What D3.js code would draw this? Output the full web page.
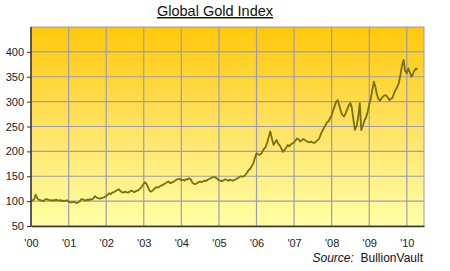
<!DOCTYPE html>
<html>
<head>
<meta charset="utf-8">
<script src="https://cdn.jsdelivr.net/npm/d3@7"></script>
<style>
  body { margin: 0; background: #ffffff; }
  svg { display: block; font-family: "Liberation Sans", Arial, sans-serif; }
</style>
</head>
<body>
<div id="chart"></div>
<script>
// semi-monthly readings (1st and 15th of each month), index level
const years = [2000, 2001, 2002, 2003, 2004, 2005, 2006, 2007, 2008, 2009, 2010];
const values2000 = [100, 101, 104, 113, 106, 103, 102, 101, 100, 103, 104, 103, 102, 101, 102, 101, 103, 102, 101, 102, 100, 101, 100, 102];
const values2001 = [99, 98, 97, 99, 98, 96, 97, 99, 103, 104, 102, 101, 103, 102, 104, 103, 106, 110, 107, 106, 105, 106, 107, 108];
const values2002 = [110, 113, 116, 114, 117, 118, 120, 122, 124, 121, 118, 117, 119, 118, 117, 119, 121, 120, 118, 120, 121, 123, 126, 130];
const values2003 = [135, 138, 133, 126, 120, 119, 122, 125, 128, 127, 129, 131, 132, 134, 136, 138, 139, 136, 137, 139, 141, 143, 144, 145];
const values2004 = [142, 143, 141, 144, 143, 146, 144, 138, 135, 134, 136, 138, 139, 138, 140, 141, 141, 143, 145, 146, 148, 149, 147, 145];
const values2005 = [142, 141, 140, 142, 144, 143, 141, 143, 142, 141, 143, 144, 146, 148, 150, 149, 150, 153, 157, 162, 165, 170, 176, 186];
const values2006 = [196, 194, 193, 195, 200, 205, 209, 218, 230, 240, 225, 213, 218, 223, 215, 212, 205, 199, 203, 207, 213, 210, 214, 216];
const values2007 = [218, 222, 226, 224, 220, 222, 225, 223, 221, 219, 218, 220, 218, 217, 219, 222, 225, 233, 240, 246, 252, 258, 260, 266];
const values2008 = [272, 282, 292, 300, 303, 292, 280, 273, 270, 276, 285, 292, 297, 288, 262, 243, 252, 268, 297, 243, 252, 262, 268, 278];
const values2009 = [295, 305, 325, 340, 330, 315, 305, 302, 307, 310, 313, 312, 308, 303, 306, 308, 318, 324, 330, 337, 355, 372, 384, 362];
const values2010 = [357, 367, 358, 350, 355, 362, 367, 364];
const yTicks = [50, 100, 150, 200, 250, 300, 350, 400];
const xTickYears = [2000, 2001, 2002, 2003, 2004, 2005, 2006, 2007, 2008, 2009, 2010];

const width = 450, height = 271;
const margin = { top: 27, right: 26, bottom: 45, left: 31 };

const allValues = [values2000, values2001, values2002, values2003, values2004, values2005,
  values2006, values2007, values2008, values2009, values2010];
const data = [];
years.forEach((yr, i) => {
  allValues[i].forEach((v, j) => {
    data.push({ date: new Date(yr, Math.floor(j / 2), j % 2 === 0 ? 1 : 15), value: v });
  });
});

const svg = d3.select("#chart").append("svg")
  .attr("width", width).attr("height", height);

const defs = svg.append("defs");
const grad = defs.append("linearGradient")
  .attr("id", "bg").attr("x1", 0).attr("y1", 0).attr("x2", 0).attr("y2", 1);
grad.append("stop").attr("offset", "0%").attr("stop-color", "#ffc80a");
grad.append("stop").attr("offset", "55%").attr("stop-color", "#ffe56a");
grad.append("stop").attr("offset", "100%").attr("stop-color", "#ffffa6");

const x = d3.scaleTime()
  .domain([new Date(2000, 0, 1), new Date(2010, 5, 17)])
  .range([margin.left, width - margin.right]);
const y = d3.scaleLinear()
  .domain([50, 450])
  .range([height - margin.bottom, margin.top]);

// plot background
svg.append("rect")
  .attr("x", margin.left).attr("y", margin.top)
  .attr("width", x.range()[1] - x.range()[0])
  .attr("height", y.range()[0] - y.range()[1])
  .attr("fill", "url(#bg)")
  .attr("stroke", "#9a9aa6").attr("stroke-width", 1);

// grid
svg.append("g").selectAll("line")
  .data(yTicks.filter((d) => d > 50))
  .join("line")
  .attr("x1", x.range()[0]).attr("x2", x.range()[1])
  .attr("y1", (d) => y(d)).attr("y2", (d) => y(d))
  .attr("stroke", "#9d9cae").attr("stroke-width", 1.2);
svg.append("g").selectAll("line")
  .data(xTickYears.filter((d) => d > 2000))
  .join("line")
  .attr("x1", (d) => x(new Date(d, 0, 1))).attr("x2", (d) => x(new Date(d, 0, 1)))
  .attr("y1", y.range()[1]).attr("y2", y.range()[0])
  .attr("stroke", "#9d9cae").attr("stroke-width", 1.2);

// line
const line = d3.line()
  .x((d) => x(d.date))
  .y((d) => y(d.value));
svg.append("path")
  .datum(data)
  .attr("d", line)
  .attr("fill", "none")
  .attr("stroke", "#77700f")
  .attr("stroke-width", 1.8)
  .attr("stroke-linejoin", "round");

// y axis
svg.append("g")
  .attr("transform", `translate(${margin.left},0)`)
  .call(d3.axisLeft(y).tickValues(yTicks).tickSize(4).tickPadding(3).tickSizeOuter(0))
  .call((g) => {
    g.select(".domain").attr("stroke", "#333").attr("stroke-width", 1.5)
      .attr("d", `M0,${y.range()[1]}V${y.range()[0]}`);
    g.selectAll(".tick line").attr("stroke", "#333");
    g.selectAll(".tick text").attr("fill", "#222").style("font-size", "11px");
  });

// x axis
svg.append("g")
  .attr("transform", `translate(0,${y.range()[0]})`)
  .call(d3.axisBottom(x)
    .tickValues(xTickYears.map((yr) => new Date(yr, 0, 1)))
    .tickFormat((d) => "'" + d3.timeFormat("%y")(d))
    .tickSize(0).tickPadding(13).tickSizeOuter(0))
  .call((g) => {
    g.select(".domain").attr("stroke", "#333").attr("stroke-width", 1.5);
    g.selectAll(".tick text").attr("fill", "#222").style("font-size", "11px");
  });

// title
svg.append("text")
  .attr("x", 215).attr("y", 16)
  .attr("text-anchor", "middle")
  .style("font-size", "14.5px")
  .style("text-decoration", "underline")
  .attr("fill", "#111")
  .text("Global Gold Index");

// source
const src = svg.append("text")
  .attr("x", x.range()[1] - 1).attr("y", 262)
  .attr("text-anchor", "end")
  .style("font-size", "12px")
  .attr("fill", "#111");
src.append("tspan").style("font-style", "italic").text("Source:");
src.append("tspan").text("\u00a0 BullionVault");
</script>
</body>
</html>
